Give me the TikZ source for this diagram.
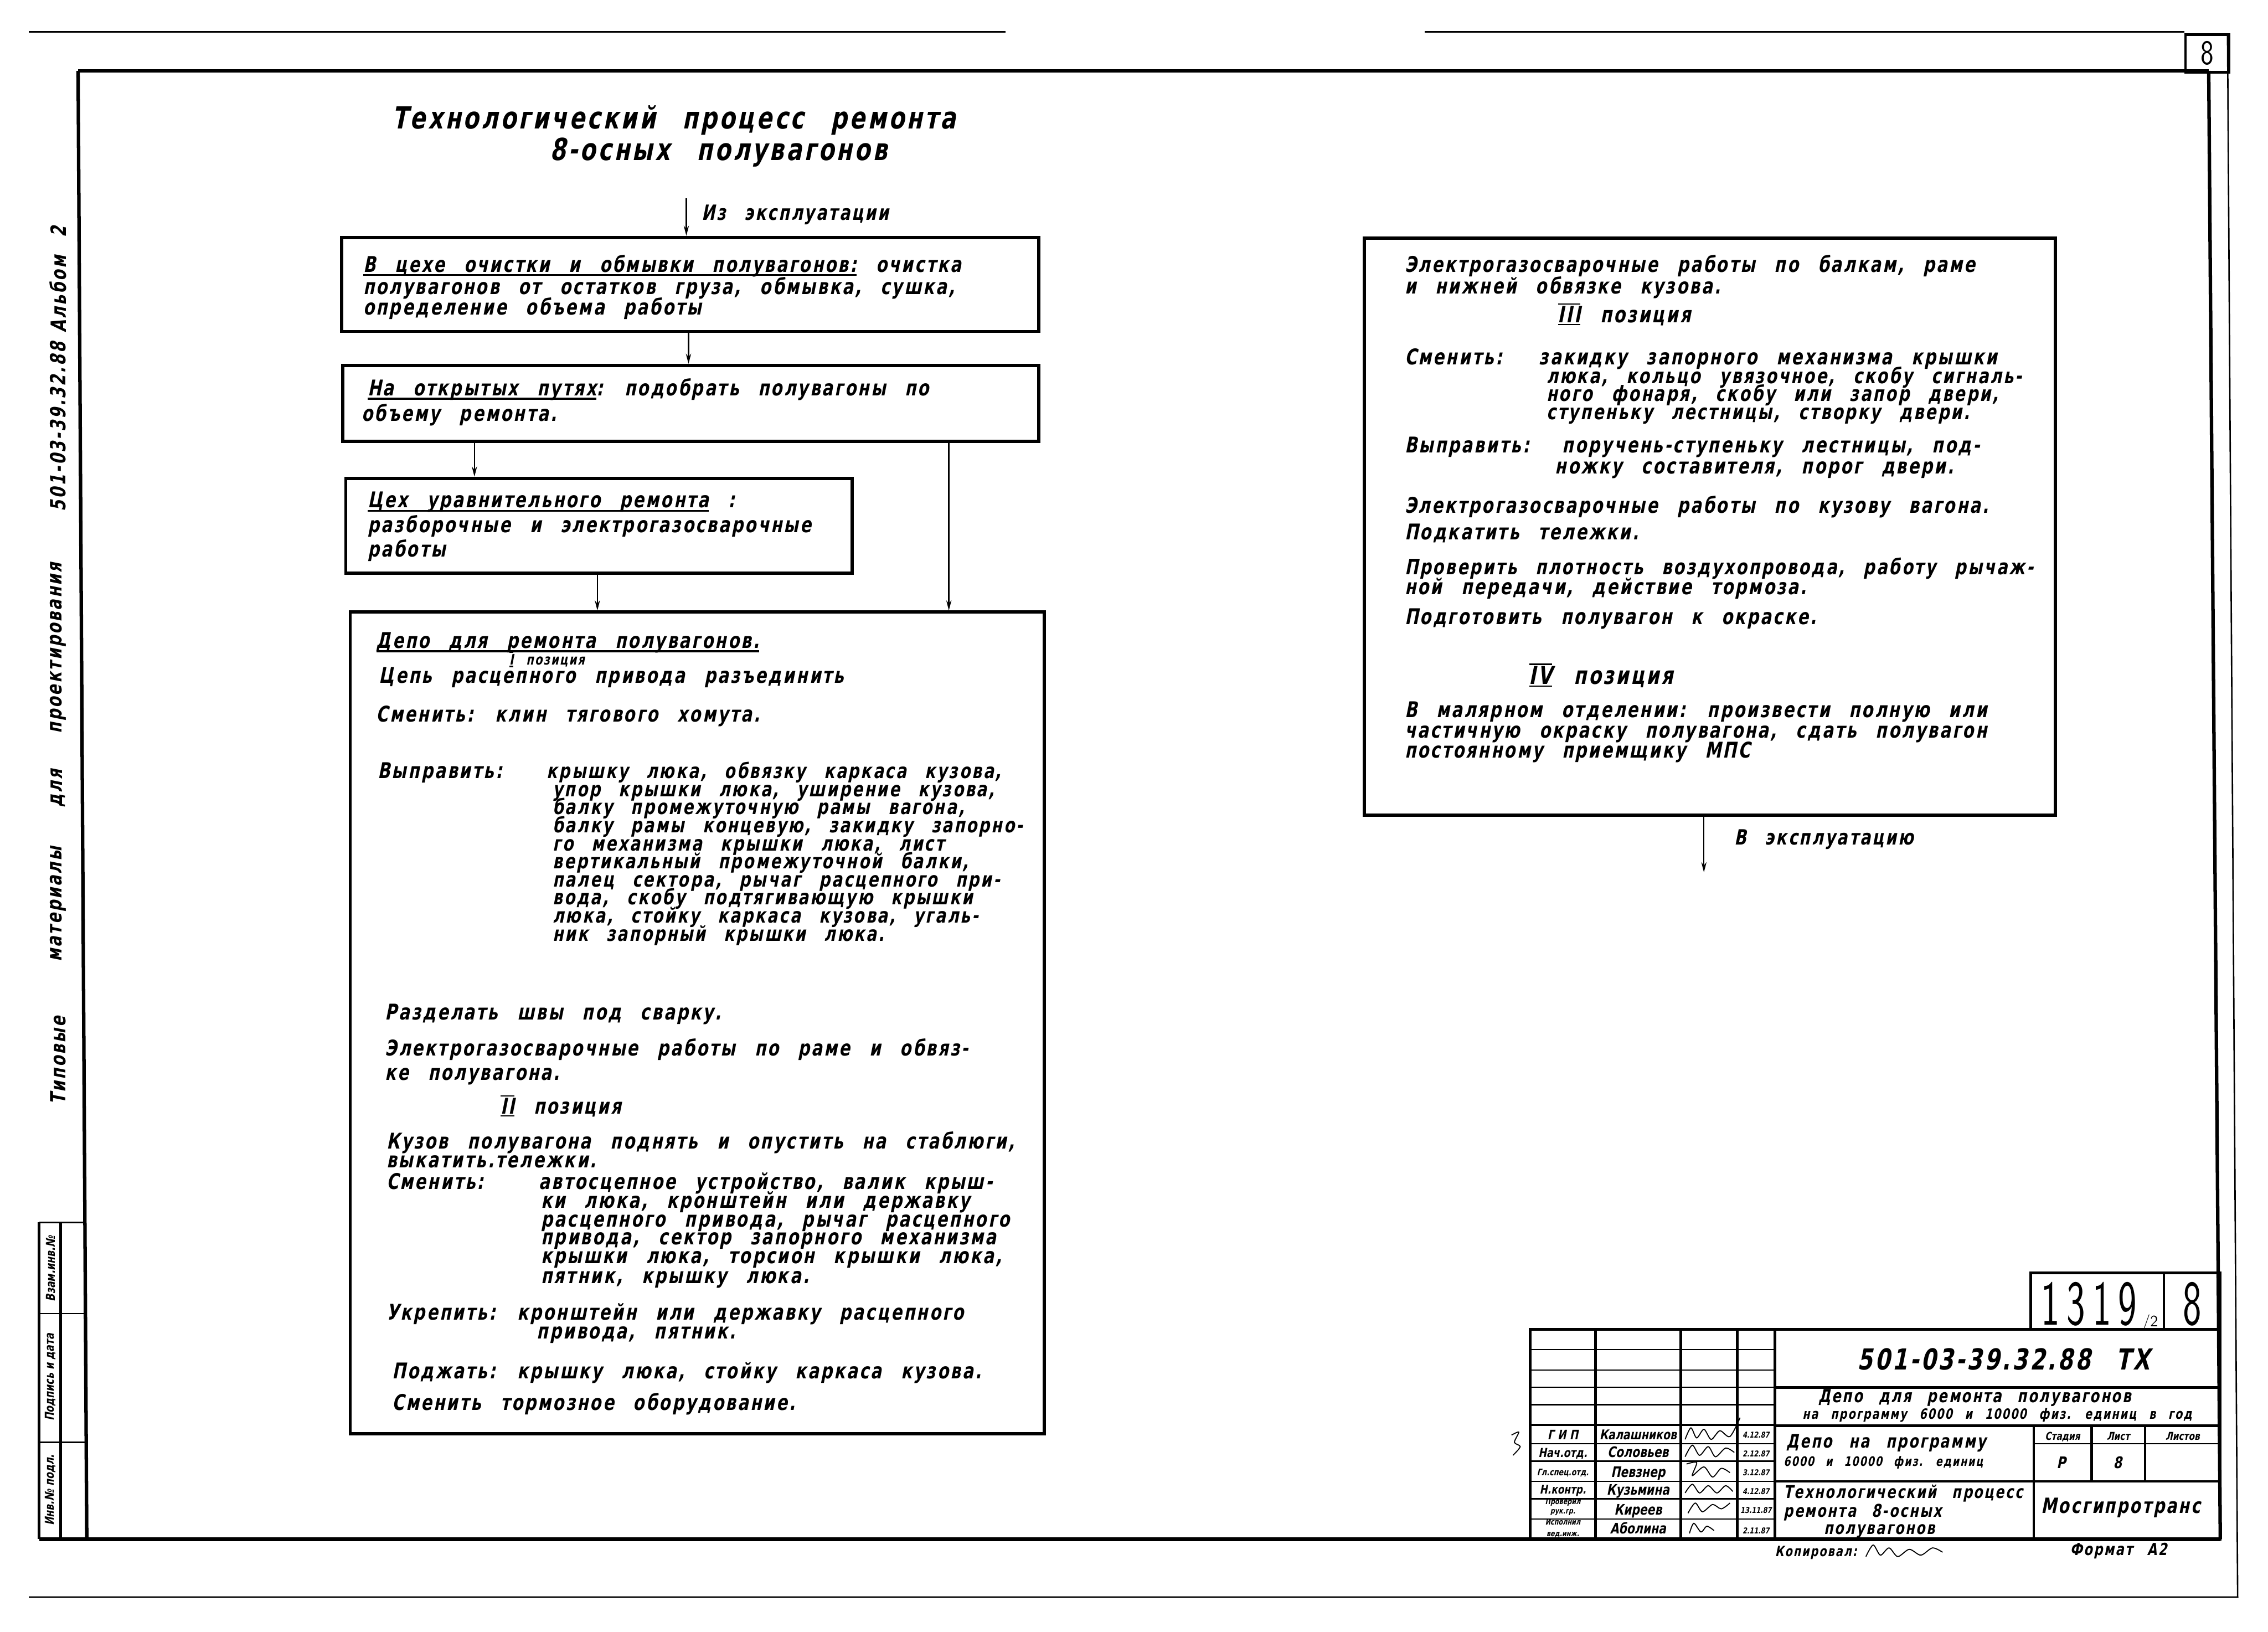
\documentclass[tikz,border=0pt]{standalone}
\usepackage{fontspec}
\usepackage{graphicx}
\setmainfont{DejaVu Sans}[FakeSlant=0.2,FakeStretch=0.75,LetterSpace=8,WordSpace=2.6]
\newfontfamily\tb{DejaVu Sans}[FakeSlant=0.2,FakeStretch=0.78]
\usetikzlibrary{arrows.meta}
\newcommand{\hl}[1]{\setbox0\hbox{#1}\rlap{\rule[-2.8pt]{\wd0}{1.3pt}}\box0\relax}
\newcommand{\rom}[1]{\setbox0\hbox{#1}\rlap{\rule[-1.8pt]{\wd0}{1pt}}\rlap{\rule[\dimexpr\ht0+1pt\relax]{\wd0}{1pt}}\box0\relax}
\newcommand{\Ln}[4]{\node[txt] (#1) at (#2,#3) {#4};}
\newcommand{\Ls}[5]{\node[txt,font=\bfseries\fontsize{#4}{#4}\selectfont] (#1) at (#2,#3) {#5};}
\newcommand{\Tb}[5]{\node[inner sep=0pt,anchor=base,font=\tb\bfseries\fontsize{#4}{#4}\selectfont] (#1) at (#2,#3) {#5};}
\begin{document}
\begin{tikzpicture}[x=1pt,y=-1pt,
 txt/.style={inner sep=0pt,anchor=base west,font=\bfseries\fontsize{15}{15}\selectfont},
 box/.style={draw,line width=2.2pt,inner sep=0pt,anchor=north west},
 conn/.style={line width=0.9pt,-{Stealth[length=7pt,width=3.6pt]}},
 frame/.style={line width=2.4pt},
 thinl/.style={line width=1pt},
 tbl/.style={line width=1.8pt},
 tbt/.style={line width=0.9pt},
 vert/.style={inner sep=0pt,rotate=90,anchor=center,font=\bfseries\fontsize{14.5}{14.5}\selectfont},
 sig/.style={line width=0.7pt}]
\useasboundingbox (0,0) rectangle (1568,1128);
% sheet lines
\draw[thinl] (20,22) -- (695,22);
\draw[thinl] (985,22) -- (1510,22);
\draw[thinl] (1540,23) -- (1547,1104) -- (20,1104);
% frame
\draw[frame] (54,49) -- (1527,49);
\draw[frame] (1527,49) -- (1535,1064);
\draw[frame] (54,49) -- (60,1064);
\draw[frame] (27,1064) -- (1535,1064);
% sheet number box
\node[draw,line width=1.8pt,minimum width=30pt,minimum height=26pt,anchor=north west,inner sep=0pt,font=\sffamily\fontsize{24}{24}\selectfont] (pg) at (1510,23) {\scalebox{0.8}[1]{8}};
% left stamp
\draw[tbl] (27,845) -- (27,1064);
\draw[tbl] (42,845) -- (42,1064);
\draw[thinl] (27,845) -- (58,845);
\draw[thinl] (27,908) -- (59,908);
\draw[thinl] (27,997) -- (59,997);
\node[vert,font=\tb\bfseries\fontsize{8.5}{8.5}\selectfont] (st1) at (35,1030) {Инв.№ подл.};
\node[vert,font=\tb\bfseries\fontsize{8.5}{8.5}\selectfont] (st2) at (35,952) {Подпись и дата};
\node[vert,font=\tb\bfseries\fontsize{8.5}{8.5}\selectfont] (st3) at (35,877) {Взам.инв.№};
% margin text
\node[vert] (m1) at (40,733) {Типовые};
\node[vert] (m2) at (40,625) {материалы};
\node[vert] (m3) at (40,545) {для};
\node[vert] (m4) at (40,448) {проектирования};
\node[vert] (m5) at (40,295) {501-03-39.32.88};
\node[vert] (m6) at (40,193) {Альбом 2};
% title
\Ls{ttl1}{271}{89}{21}{Технологический процесс ремонта}
\Ls{ttl2}{380}{111}{21}{8-осных полувагонов}
% boxes
\node[box,minimum width=482pt,minimum height=65pt] (b1) at (235,163) {};
\node[box,minimum width=481pt,minimum height=52.5pt] (b2) at (236,251.5) {};
\node[box,minimum width=350pt,minimum height=65.5pt] (b3) at (238,329.5) {};
\node[box,minimum width=480pt,minimum height=568pt] (b4) at (241,422) {};
\node[box,minimum width=478pt,minimum height=399pt] (b5) at (942,163.5) {};
% connectors
\coordinate (in0) at (474.5,137);
\coordinate (xa) at (476,0);
\coordinate (xb) at (328,0);
\coordinate (xc) at (656,0);
\coordinate (xd) at (413,0);
\coordinate (xe) at (1178,0);
\coordinate (out0) at (1178,603);
\draw[conn] (in0) -- (in0 |- b1.north);
\draw[conn] (b1.south -| xa) -- (b2.north -| xa);
\draw[conn] (b2.south -| xb) -- (b3.north -| xb);
\draw[conn] (b2.south -| xc) -- (b4.north -| xc);
\draw[conn] (b3.south -| xd) -- (b4.north -| xd);
\draw[conn] (b5.south -| xe) -- (out0);
\Ls{lin}{485}{152}{14.5}{Из эксплуатации}
\Ls{lout}{1199}{584}{14.5}{В эксплуатацию}
% box 1
\Ln{a1}{251}{188}{\hl{В цехе очистки и обмывки полувагонов:} очистка}
\Ln{a2}{251}{203.5}{полувагонов от остатков груза, обмывка, сушка,}
\Ln{a3}{251}{217.5}{определение объема работы}
% box 2
\Ln{bb1}{254}{273.5}{\hl{На открытых путях}: подобрать полувагоны по}
\Ln{bb2}{250}{291}{объему ремонта.}
% box 3
\Ln{c1}{254}{351}{\hl{Цех уравнительного ремонта} :}
\Ln{c2}{254}{368}{разборочные и электрогазосварочные}
\Ln{c3}{254}{385}{работы}
% box 4
\Ln{d1}{260}{448}{\hl{Депо для ремонта полувагонов.}}
\Ls{d2}{352}{459.5}{10}{\rom{I} позиция}
\Ln{d3}{262}{472}{Цепь расцепного привода разъединить}
\Ln{d4}{260}{499}{Сменить: клин тягового хомута.}
\Ln{d5}{261}{538}{Выправить:}
\Ls{l1}{378}{538}{14.3}{крышку люка, обвязку каркаса кузова,}
\Ls{l2}{382}{550.5}{14.3}{упор крышки люка, уширение кузова,}
\Ls{l3}{382}{563}{14.3}{балку промежуточную рамы вагона,}
\Ls{l4}{382}{575.5}{14.3}{балку рамы концевую, закидку запорно-}
\Ls{l5}{382}{588}{14.3}{го механизма крышки люка, лист}
\Ls{l6}{382}{600.5}{14.3}{вертикальный промежуточной балки,}
\Ls{l7}{382}{613}{14.3}{палец сектора, рычаг расцепного при-}
\Ls{l8}{382}{625.5}{14.3}{вода, скобу подтягивающую крышки}
\Ls{l9}{382}{638}{14.3}{люка, стойку каркаса кузова, угаль-}
\Ls{l10}{382}{650.5}{14.3}{ник запорный крышки люка.}
\Ln{d6}{266}{705}{Разделать швы под сварку.}
\Ln{d7}{266}{730}{Электрогазосварочные работы по раме и обвяз-}
\Ln{d8}{266}{746.5}{ке полувагона.}
\Ls{d9}{346}{770}{15}{\rom{II} позиция}
\Ln{d10}{267}{794}{Кузов полувагона поднять и опустить на стаблюги,}
\Ln{d11}{267}{807}{выкатить.тележки.}
\Ln{d12}{267}{822}{Сменить:}
\Ln{k1}{372.5}{822}{автосцепное устройство, валик крыш-}
\Ln{k2}{374}{835}{ки люка, кронштейн или державку}
\Ln{k3}{374}{848}{расцепного привода, рычаг расцепного}
\Ln{k4}{374}{860.5}{привода, сектор запорного механизма}
\Ln{k5}{374}{873.5}{крышки люка, торсион крышки люка,}
\Ln{k6}{374}{887}{пятник, крышку люка.}
\Ln{d13}{267}{912.5}{Укрепить: кронштейн или державку расцепного}
\Ln{d14}{371}{925.5}{привода, пятник.}
\Ln{d15}{271}{953}{Поджать: крышку люка, стойку каркаса кузова.}
\Ln{d16}{271}{975}{Сменить тормозное оборудование.}
% box 5
\Ln{e1}{971}{188}{Электрогазосварочные работы по балкам, раме}
\Ln{e2}{971}{203}{и нижней обвязке кузова.}
\Ls{e3}{1077}{223}{15.5}{\rom{III} позиция}
\Ln{e4}{971}{252}{Сменить:}
\Ln{g1}{1064}{252}{закидку запорного механизма крышки}
\Ls{g2}{1069}{265}{14.6}{люка, кольцо увязочное, скобу сигналь-}
\Ls{g3}{1069}{277.5}{14.6}{ного фонаря, скобу или запор двери,}
\Ls{g4}{1069}{290}{14.6}{ступеньку лестницы, створку двери.}
\Ln{e5}{971}{313}{Выправить:}
\Ln{h1}{1080}{313}{поручень-ступеньку лестницы, под-}
\Ln{h2}{1075}{327.5}{ножку составителя, порог двери.}
\Ln{e6}{971}{354.5}{Электрогазосварочные работы по кузову вагона.}
\Ln{e7}{971}{373}{Подкатить тележки.}
\Ls{e8}{971}{397}{14.7}{Проверить плотность воздухопровода, работу рычаж-}
\Ln{e9}{971}{411}{ной передачи, действие тормоза.}
\Ln{e10}{971}{431.5}{Подготовить полувагон к окраске.}
\Ls{e11}{1057}{473}{17}{\rom{IV} позиция}
\Ln{e12}{971}{496}{В малярном отделении: произвести полную или}
\Ln{e13}{971}{510}{частичную окраску полувагона, сдать полувагон}
\Ln{e14}{971}{524}{постоянному приемщику МПС}
% title block
\draw[tbl] (1058,919) rectangle (1535,1064);
\foreach \x in {1103,1162,1201,1227} \draw[tbl] (\x,919) -- (\x,1064);
\foreach \y in {933,947,959,971} \draw[tbt] (1058,\y) -- (1227,\y);
\draw[tbl] (1058,985) -- (1227,985);
\foreach \y in {998,1010,1024,1036,1050} \draw[tbt] (1058,\y) -- (1227,\y);
\draw[tbl] (1227,959) -- (1535,959);
\draw[tbl] (1227,985.5) -- (1535,985.5);
\draw[tbl] (1227,1024) -- (1535,1024);
\draw[tbl] (1406,985.5) -- (1406,1064);
\draw[tbt] (1406,998) -- (1535,998);
\draw[tbl] (1446,985.5) -- (1446,1024);
\draw[tbl] (1483,985.5) -- (1483,1024);
\draw[tbl] (1404,919) -- (1404,880) -- (1535,880) -- (1535,919);
\draw[tbl] (1496,880) -- (1496,919);
\node[inner sep=0pt,anchor=base west,font=\sffamily\fontsize{44}{44}\selectfont] (num) at (1411,916) {\scalebox{0.62}[1]{1\kern8pt3\kern8pt1\kern8pt9}};
\node[inner sep=0pt,anchor=base west,font=\sffamily\fontsize{11}{11}\selectfont] (num2) at (1481,917) {/2};
\node[inner sep=0pt,anchor=base,font=\sffamily\fontsize{44}{44}\selectfont] (num3) at (1515.5,916) {\scalebox{0.62}[1]{8}};
\Ls{code}{1284}{947}{20}{501-03-39.32.88 ТХ}
\Ls{ob1}{1257}{969.5}{12.5}{Депо для ремонта полувагонов}
\Ls{ob2}{1246}{981}{9.8}{на программу 6000 и 10000 физ. единиц в год}
\Ls{ob3}{1235}{1001}{12.9}{Депо на программу}
\Ls{ob4}{1233}{1013.5}{9}{6000 и 10000 физ. единиц}
\Tb{sta}{1426}{995.5}{7.5}{Стадия}
\Tb{lis}{1464.5}{995.5}{7.5}{Лист}
\Tb{lst}{1509}{995.5}{7.5}{Листов}
\Tb{stv}{1425}{1015}{11}{Р}
\Tb{lsv}{1464}{1015}{11}{8}
\Ls{nm1}{1233}{1035.5}{12.2}{Технологический процесс}
\Ls{nm2}{1233}{1048.8}{12.2}{ремонта 8-осных}
\Ls{nm3}{1261}{1060.5}{12.2}{полувагонов}
\Ls{org}{1411}{1046}{14.5}{Мосгипротранс}
\Ls{kop}{1227}{1076}{9.8}{Копировал:}
\Ls{fmt}{1431}{1075}{11.5}{Формат А2}
% persons
\Tb{r1}{1080.5}{995}{9}{Г И П}
\Tb{r2}{1080.5}{1007.5}{8.6}{Нач.отд.}
\Tb{r3}{1080.5}{1020}{6.3}{Гл.спец.отд.}
\Tb{r4}{1080.5}{1032.5}{8.3}{Н.контр.}
\Tb{r5a}{1080.5}{1040}{5.5}{Проверил}
\Tb{r5b}{1080.5}{1046.5}{5.5}{рук.гр.}
\Tb{r6a}{1080.5}{1054}{5.5}{Исполнил}
\Tb{r6b}{1080.5}{1062}{5.5}{вед.инж.}
\Tb{p1}{1132.5}{995}{9.3}{Калашников}
\Tb{p2}{1132.5}{1007.5}{10}{Соловьев}
\Tb{p3}{1132.5}{1021}{10}{Певзнер}
\Tb{p4}{1132.5}{1033.5}{10}{Кузьмина}
\Tb{p5}{1132.5}{1047}{10}{Киреев}
\Tb{p6}{1132.5}{1060}{10}{Аболина}
\Tb{q1}{1214}{994}{5.6}{4.12.87}
\Tb{q2}{1214}{1007}{5.6}{2.12.87}
\Tb{q3}{1214}{1020}{5.6}{3.12.87}
\Tb{q4}{1214}{1033}{5.6}{4.12.87}
\Tb{q5}{1214}{1046}{5.6}{13.11.87}
\Tb{q6}{1214}{1060}{5.6}{2.11.87}
% signatures
\draw[sig] plot[smooth] coordinates {(1165,995) (1169,987) (1173,994) (1178,988) (1183,995) (1189,989) (1196,993) (1203,980)};
\draw[sig] plot[smooth] coordinates {(1165,1007) (1170,999) (1175,1006) (1181,1000) (1186,1007) (1193,1001) (1199,1004)};
\draw[sig] plot[smooth] coordinates {(1166,1012) (1173,1011) (1170,1020) (1178,1014) (1184,1021) (1190,1015) (1196,1018)};
\draw[sig] plot[smooth] coordinates {(1165,1032) (1170,1026) (1175,1032) (1181,1027) (1187,1032) (1193,1027) (1198,1031)};
\draw[sig] plot[smooth] coordinates {(1167,1046) (1172,1039) (1177,1045) (1184,1040) (1190,1043) (1196,1039)};
\draw[sig] plot[smooth] coordinates {(1168,1060) (1171,1053) (1176,1059) (1180,1055) (1185,1058)};
\draw[sig] plot[smooth] coordinates {(1045,992) (1050,990) (1047,997) (1051,1000) (1046,1006)};
\draw[sig] plot[smooth] coordinates {(1290,1076) (1295,1068) (1300,1075) (1306,1070) (1312,1076) (1320,1071) (1328,1075) (1336,1070) (1343,1073)};
\end{tikzpicture}
\end{document}
